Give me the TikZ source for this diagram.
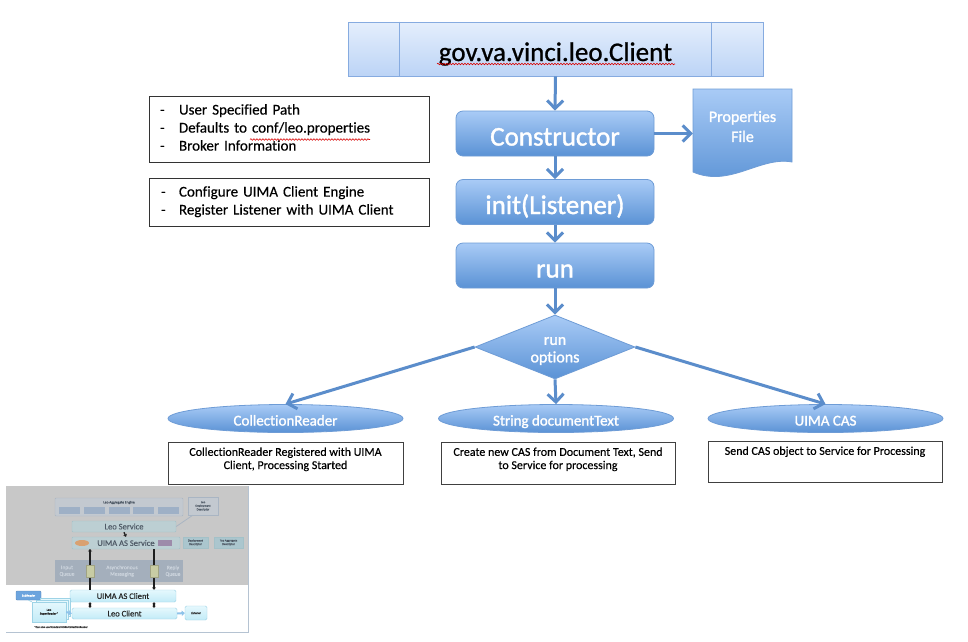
\documentclass[tikz,border=0pt]{standalone}
\usepackage{fontspec}
\setmainfont{Carlito}[Ligatures=NoCommon, FakeBold=0.3]
\newfontfamily\heavy{Carlito}[Ligatures=NoCommon, FakeBold=1.4]
\newfontfamily\medium{Carlito}[Ligatures=NoCommon, FakeBold=0.8]
\usetikzlibrary{shapes.geometric,arrows.meta,decorations.pathmorphing,calc}
\definecolor{arrowblue}{HTML}{5B8DCB}
\definecolor{nodetop}{HTML}{A9CBF6}
\definecolor{nodebot}{HTML}{5A92D5}
\definecolor{nodeborder}{HTML}{6E9CD6}
\definecolor{titletop}{HTML}{E4EEFC}
\definecolor{titlebot}{HTML}{BCD4F6}
\definecolor{titleborder}{HTML}{86ABE0}
\definecolor{thumbgray}{HTML}{C8C8C8}
\definecolor{aggfill}{HTML}{C3C9D0}
\definecolor{aggborder}{HTML}{A9B5C3}
\definecolor{subfill}{HTML}{9EB0C6}
\definecolor{tealfill}{HTML}{BCCFD3}
\definecolor{tealborder}{HTML}{A3C1C8}
\definecolor{thumbtext}{HTML}{4F5A66}
\definecolor{msgfill}{HTML}{A4AFBC}
\definecolor{msgtext}{HTML}{CBD3DC}
\definecolor{descfill}{HTML}{ABC6CE}
\definecolor{clienttop}{HTML}{E5F8FD}
\definecolor{clientbot}{HTML}{C2EBF7}
\definecolor{clientborder}{HTML}{9ED3E6}
\definecolor{subrfill}{HTML}{6CA4DE}
\definecolor{lightarrow}{HTML}{8EC3EA}
\definecolor{thumbdark}{HTML}{1E1E1E}
\definecolor{orangefill}{HTML}{D9A171}
\definecolor{purplefill}{HTML}{9D8BAA}
\definecolor{yellowfill}{HTML}{C8CCA4}
\definecolor{frameline}{HTML}{B5C3D2}
\begin{document}
\begin{tikzpicture}[x=1pt,y=-1pt,
  titlebox/.style={draw=titleborder, line width=0.9pt, top color=titletop, bottom color=titlebot,
    minimum width=415pt, minimum height=54pt, inner sep=0pt, text=black,
    font=\medium\fontsize{27}{30}\selectfont, text height=24pt, text depth=0pt},
  stepbox/.style={draw=nodeborder, line width=0.8pt, rounded corners=7pt, top color=nodetop, bottom color=nodebot,
    minimum width=198pt, minimum height=45pt, inner sep=0pt, text=white,
    font=\heavy\fontsize{27}{30}\selectfont, text height=24pt, text depth=0pt},
  flow/.style={draw=arrowblue, line width=3pt, -{Straight Barb[length=8pt,width=16pt]}},
  decision/.style={diamond, aspect=2.5, draw=nodeborder, line width=0.8pt, top color=nodetop, bottom color=nodebot,
    minimum width=160pt, minimum height=64pt, inner sep=0pt},
  whitetext/.style={text=white, align=center, inner sep=0pt},
  optbox/.style={ellipse, draw=nodeborder, line width=0.8pt, top color=nodetop, bottom color=nodebot,
    minimum width=235pt, minimum height=28pt, inner sep=0pt, text=white,
    font=\heavy\fontsize{15}{18}\selectfont, text height=14pt, text depth=0pt},
  descbox/.style={draw=black!75, line width=1pt, fill=white, inner xsep=5pt, inner ysep=5pt,
    font=\fontsize{12}{13.2}\selectfont},
  notebox/.style={draw=black!80, line width=1pt, fill=white, inner ysep=0pt,
    font=\fontsize{15}{18}\selectfont, align=left},
  squiggle/.style={draw=red!85!black, line width=0.6pt, decorate,
    decoration={snake, amplitude=0.8pt, segment length=3pt}},
  tealbox/.style={draw=tealborder, fill=tealfill, inner sep=0pt, rounded corners=1pt, text=thumbtext,
    font=\fontsize{8.5}{9}\selectfont},
  tinybox/.style={draw=tealborder, fill=descfill, inner sep=0pt, text=thumbtext, align=center,
    font=\fontsize{3}{3.6}\selectfont},
  clientbox/.style={draw=clientborder, top color=clienttop, bottom color=clientbot, inner sep=0pt,
    rounded corners=1.5pt, text=black!85, font=\fontsize{8.5}{9}\selectfont},
  lightflow/.style={draw=lightarrow, line width=2pt, -{Triangle[length=3pt,width=5pt]}},
  darkflow/.style={draw=thumbdark, line width=1.3pt}
]
\useasboundingbox (0,0) rectangle (968,641);
\fill[white] (0,0) rectangle (968,641);

% ---------------- title ----------------
\node[titlebox] (client) at (555.5,49) {gov.va.vinci.leo.Client};
\draw[titleborder, line width=0.8pt] ([xshift=52pt]client.north west) -- ([xshift=52pt]client.south west);
\draw[titleborder, line width=0.8pt] ([xshift=-52pt]client.north east) -- ([xshift=-52pt]client.south east);
\path[squiggle] (437,64) -- (675,64);

% ---------------- steps ----------------
\node[stepbox] (ctor) at (555,133.5) {Constructor};
\node[stepbox] (init) at (555,202) {init(Listener)};
\node[stepbox] (run) at (555,265.5) {run};

% properties file (document shape)
\path[draw=nodeborder, line width=0.8pt, top color=nodetop, bottom color=nodebot]
  (693,89) -- (792,89) -- (792,162) .. controls (760,156) and (730,188) .. (693,172) -- cycle;
\node[whitetext, font=\heavy\fontsize{16}{20}\selectfont, minimum width=99pt, minimum height=73pt] (props) at (742.5,126.5) {Properties\\File};

% decision
\node[decision] (opts) at (555,347) {};
\node[whitetext, font=\heavy\fontsize{16}{17.5}\selectfont] (optslabel) at (555,351) {run\\options};

% options
\node[optbox] (cr) at (285.5,418.5) {CollectionReader};
\node[optbox] (sd) at (556,418.5) {String documentText};
\node[optbox] (cas) at (825.5,418.5) {UIMA CAS};

% descriptions
\node[descbox] (crdesc) at (285.5,463.5) {\parbox[t][32pt][t]{225pt}{\centering CollectionReader Registered with UIMA\\Client, Processing Started}};
\node[descbox] (sddesc) at (558,463.5) {\parbox[t][32pt][t]{224pt}{\centering Create new CAS from Document Text, Send\\to Service for processing}};
\node[descbox] (casdesc) at (825,462) {\parbox[t][31pt][t]{224pt}{\centering Send CAS object to Service for Processing}};

% notes
\node[notebox, minimum width=280pt, minimum height=66pt, text width=258pt, inner xsep=11pt] (note1) at (289,129)
  {\begin{tabular}{@{}p{19pt}@{}l@{}}-&User Specified Path\\-&Defaults to conf/leo.properties\\-&Broker Information\end{tabular}};
\path[squiggle] (250,139.5) -- (370,139.5);
\node[notebox, minimum width=280pt, minimum height=48pt, text width=256pt, inner xsep=12pt] (note2) at (289,202)
  {\begin{tabular}{@{}p{18pt}@{}l@{}}-&Configure UIMA Client Engine\\-&Register Listener with UIMA Client\end{tabular}};

% connectors
\draw[flow] (client.south) -- (ctor.north);
\draw[flow] (ctor.east) -- (ctor.east -| props.west);
\draw[flow] (ctor.south) -- (init.north);
\draw[flow] (init.south) -- (run.north);
\draw[flow] (run.south) -- (opts.north);
\draw[flow] (opts.west) -- (cr.north);
\draw[flow] (opts.south) -- (sd.north);
\draw[flow] (opts.east) -- (cas.north);

% ---------------- thumbnail ----------------
\fill[thumbgray] (6,486) rectangle (248,585);
\draw[frameline, line width=0.8pt] (248,486) -- (248,632) -- (6,632);
\draw[fill=aggfill, draw=aggborder, rounded corners=1pt] (55,498) rectangle (183,516);
\node[text=thumbtext, inner sep=0pt, font=\fontsize{3.6}{4}\selectfont] (aggtxt) at (119,502.5) {Leo Aggregate Engine};
\foreach \xx in {59,84,109,133,158} \fill[subfill] (\xx,507) rectangle ++(21,7);
\node[draw=aggborder, fill=aggfill, minimum width=30pt, minimum height=18pt, inner sep=0pt, align=center,
  text=thumbtext, font=\fontsize{3}{3.6}\selectfont] (ldd) at (203,506) {Leo\\Deployment\\Descriptor};
\node[tealbox, minimum width=104pt, minimum height=11pt] (leoserv) at (124,526.5) {Leo Service};
\draw[aggborder, line width=0.8pt] (leoserv.east) -- ([xshift=5pt]ldd.south west);
\node[tealbox, minimum width=108pt, minimum height=12pt] (uimaserv) at (126,543) {UIMA AS Service};
\fill[orangefill] (82,543) ellipse (7pt and 3pt);
\fill[purplefill] (158,540) rectangle (172,546);
\draw[darkflow, -{Stealth[length=2.5pt,width=4pt]}] (leoserv.south) -- (uimaserv.north);
\node[tinybox, minimum width=25pt, minimum height=11pt] (dd) at (195.5,542.5) {Deployment\\Descriptor};
\node[tinybox, minimum width=29pt, minimum height=11pt] (tad) at (228.5,542.5) {Top Aggregate\\Descriptor};
\fill[msgfill] (55,560) rectangle (183,582);
\node[text=msgtext, align=center, inner sep=0pt, font=\fontsize{5.5}{6.5}\selectfont] (inq) at (67,571) {Input\\Queue};
\node[text=msgtext, align=center, inner sep=0pt, font=\fontsize{5.5}{6.5}\selectfont] (asyn) at (122,571) {Asynchronous\\Messaging};
\node[text=msgtext, align=center, inner sep=0pt, font=\fontsize{5.5}{6.5}\selectfont] (repq) at (173,571) {Reply\\Queue};
\node[clientbox, minimum width=106pt, minimum height=12pt] (uimaclient) at (123,596) {UIMA AS Client};
\node[clientbox, minimum width=105pt, minimum height=11pt] (leoclient) at (124.5,613.5) {Leo Client};
\coordinate (qin) at (90,549);
\coordinate (qout) at (154,549);
\draw[darkflow, {Stealth[length=2.5pt,width=4pt]}-] (qin) -- (qin |- uimaclient.north);
\draw[darkflow, -{Stealth[length=2.5pt,width=4pt]}] (qout) -- (qout |- uimaclient.north);
\draw[fill=yellowfill, draw=yellowfill!80!black, line width=0.4pt] (86,565) rectangle (94,577);
\draw[fill=yellowfill, draw=yellowfill!80!black, line width=0.4pt] (150,565) rectangle (158,577);
\draw[darkflow, {Stealth[length=2pt,width=3.5pt]}-{Stealth[length=2pt,width=3.5pt]}] (qin |- uimaclient.south) -- (qin |- leoclient.north);
\draw[darkflow, {Stealth[length=2pt,width=3.5pt]}-{Stealth[length=2pt,width=3.5pt]}] (qout |- uimaclient.south) -- (qout |- leoclient.north);
\node[clientbox, minimum width=22pt, minimum height=14pt, font=\fontsize{3}{3.6}\selectfont] (listener) at (196,613) {Listener};
\draw[lightflow] (leoclient.east) -- (listener.west);
\node[fill=subrfill, draw=subrfill!85!black, rounded corners=1pt, minimum width=25pt, minimum height=9pt, inner sep=0pt,
  text=white, font=\fontsize{3}{3.6}\selectfont] (subr) at (28.5,595.5) {SubReader};
\draw[clientborder, fill=clienttop] (40,598) rectangle (70,616);
\draw[clientborder, fill=clienttop] (36,600) rectangle (68,619);
\node[clientbox, rounded corners=0pt, minimum width=34pt, minimum height=20pt, align=center,
  font=\fontsize{3.2}{3.8}\selectfont] (super) at (49,612) {Leo\\SuperReader*};
\draw[clientborder, line width=0.6pt] (subr.south) -- (super.north west);
\draw[lightflow] (super.east) -- (leoclient.west);
\node[inner sep=0pt, text=black!80, font=\fontsize{2.8}{3}\selectfont] (caption) at (61,627) {*Can also use Standard UIMA CollectionReader};
\end{tikzpicture}
\end{document}
